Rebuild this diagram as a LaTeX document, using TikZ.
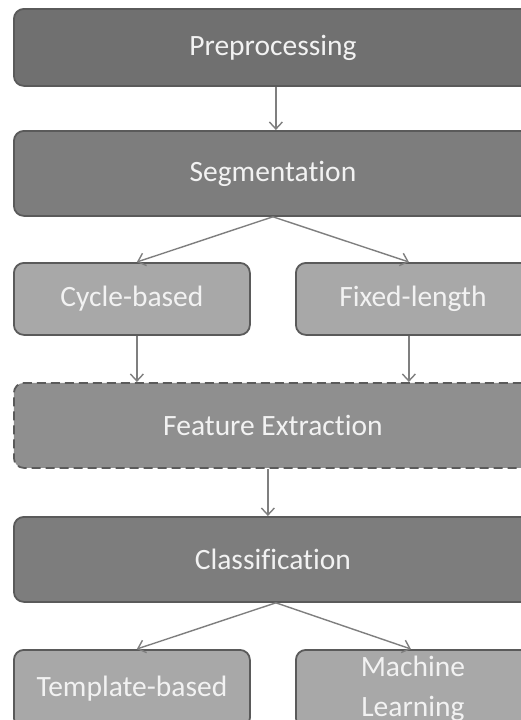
\documentclass[tikz,border=0pt]{standalone}
\usepackage{fontspec}
\setmainfont{Carlito}[Ligatures=NoCommon]
\usetikzlibrary{arrows.meta}
\definecolor{boxpre}{HTML}{707070}
\definecolor{boxdark}{HTML}{7D7D7D}
\definecolor{boxmid}{HTML}{8F8F8F}
\definecolor{boxlight}{HTML}{A8A8A8}
\definecolor{edge}{HTML}{5A5A5A}
\definecolor{link}{HTML}{7F7F7F}
\definecolor{label}{HTML}{F2F2F2}
\tikzset{
  stage/.style={draw=edge, line width=1.8pt, rounded corners=10pt, anchor=north west,
    text=label, align=center, inner sep=0pt,
    font=\fontsize{29.5}{40}\selectfont},
  wide/.style={stage, fill=boxdark, minimum width=518pt, minimum height=85pt},
  half/.style={stage, fill=boxlight, minimum width=236pt, minimum height=72pt},
  flow/.style={draw=link, line width=1.4pt, -{Straight Barb[length=7pt,width=13pt,line width=1.4pt]}}
}
\begin{document}
\begin{tikzpicture}[x=1pt,y=-1pt]
  \useasboundingbox (0,0) rectangle (521,720);
  \clip (0,0) rectangle (521,720);
  \fill[white] (0,0) rectangle (521,720);

  % main pipeline
  \node[wide, fill=boxpre, minimum height=77pt] (pre) at (13,8) {Preprocessing};
  \node[wide] (seg) at (13,130) {Segmentation};
  \node[half] (cyc) at (13,262) {Cycle-based};
  \node[half, minimum width=234pt] (fix) at (295,262) {Fixed-length};
  \node[wide, fill=boxmid, dash pattern=on 9pt off 5pt] (fe) at (13,382) {Feature Extraction};
  \node[wide] (cls) at (13,516) {Classification};
  \node[half, minimum height=78pt] (tpl) at (13,649) {Template-based};
  \node[half, minimum width=234pt, minimum height=78pt] (ml) at (295,649) {Machine\\Learning};

  % connectors
  \draw[flow] ([xshift=3pt]pre.south) -- ([xshift=3pt]seg.north);
  \draw[flow] (seg.south) -- ([xshift=5pt]cyc.north);
  \draw[flow] (seg.south) -- ([xshift=-4pt]fix.north);
  \draw[flow] ([xshift=5pt]cyc.south) -- ([xshift=5pt]cyc.south |- fe.north);
  \draw[flow] ([xshift=-4pt]fix.south) -- ([xshift=-4pt]fix.south |- fe.north);
  \draw[flow] ([xshift=-5pt]fe.south) -- ([xshift=-5pt]cls.north);
  \draw[flow] ([xshift=3pt]cls.south) -- ([xshift=5pt]tpl.north);
  \draw[flow] ([xshift=3pt]cls.south) -- ([xshift=-2pt]ml.north);
\end{tikzpicture}
\end{document}
